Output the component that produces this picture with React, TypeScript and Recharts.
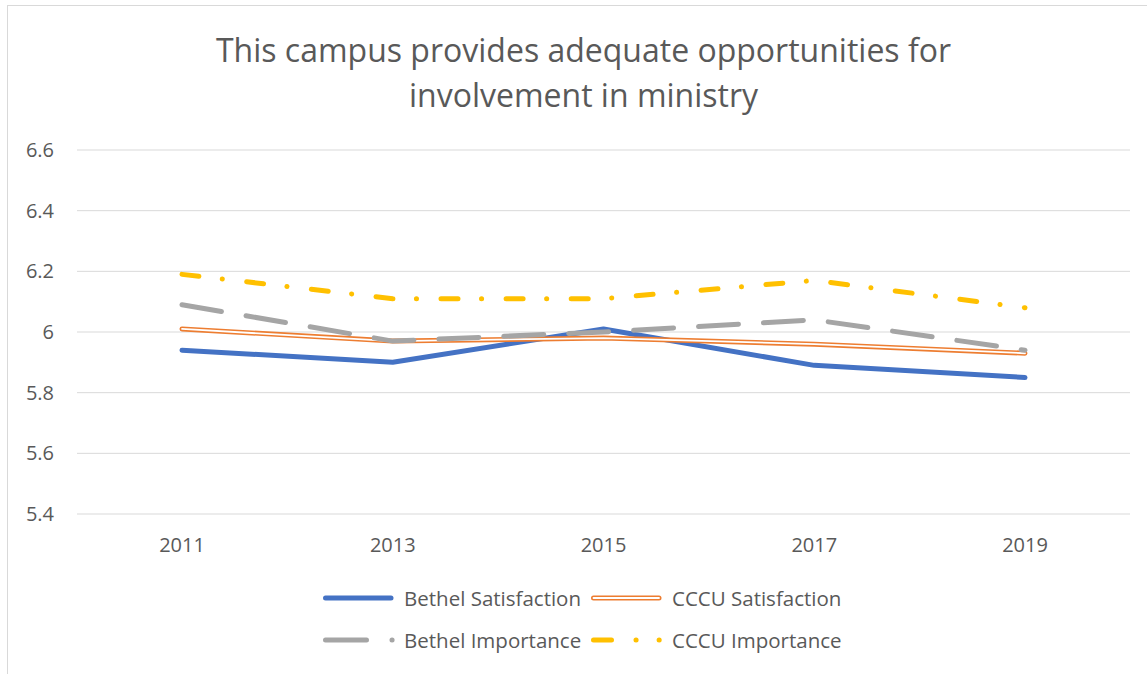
import React from 'react';
import { LineChart, Line, XAxis, YAxis, CartesianGrid } from 'recharts';

const years = ['2011', '2013', '2015', '2017', '2019'];
const bethelSatisfaction = [5.94, 5.9, 6.01, 5.89, 5.85];
const cccuSatisfaction = [6.01, 5.97, 5.98, 5.96, 5.93];
const bethelImportance = [6.09, 5.97, 6.0, 6.04, 5.94];
const cccuImportance = [6.19, 6.11, 6.11, 6.17, 6.08];
const yTicks = [5.4, 5.6, 5.8, 6.0, 6.2, 6.4, 6.6];
const titleLines = ['This campus provides adequate opportunities for', 'involvement in ministry'];
const seriesNames = ['Bethel Satisfaction', 'CCCU Satisfaction', 'Bethel Importance', 'CCCU Importance'];

const data = years.map((y, i) => ({
  year: y,
  bs: bethelSatisfaction[i],
  cs: cccuSatisfaction[i],
  bi: bethelImportance[i],
  ci: cccuImportance[i],
}));

const FONT = '"Open Sans", sans-serif';
const TXT = '#595959';
const BLUE = '#4472C4';
const ORANGE = '#ED7D31';
const GRAY = '#A5A5A5';
const YELLOW = '#FFC000';
const GRAY_DASH = '40 25';
const YELLOW_DASH = '17 23.5 0.1 24.5';

const fmt = (v: number) => String(Number(v.toFixed(1)));

function Sample({ kind }: { kind: number }) {
  const w = 76;
  return (
    <svg width={w} height={12} style={{ display: 'block' }}>
      {kind === 0 && <line x1={5.5} y1={6} x2={71} y2={6} stroke={BLUE} strokeWidth={5} strokeLinecap="round" />}
      {kind === 1 && (
        <g>
          <line x1={5.5} y1={6} x2={71} y2={6} stroke={ORANGE} strokeWidth={5} strokeLinecap="round" />
          <line x1={5.5} y1={6} x2={71} y2={6} stroke="#fff" strokeWidth={1.8} strokeLinecap="round" />
        </g>
      )}
      {kind === 2 && (
        <line x1={5.5} y1={6} x2={73} y2={6} stroke={GRAY} strokeWidth={5} strokeLinecap="round" strokeDasharray="41 25.5 0.1 30" />
      )}
      {kind === 3 && (
        <line x1={5.5} y1={6} x2={73} y2={6} stroke={YELLOW} strokeWidth={5} strokeLinecap="round" strokeDasharray="18 24.5 0.1 23 0.1 30" />
      )}
    </svg>
  );
}

function LegendBox() {
  const rows = [[0, 1], [2, 3]];
  return (
    <div style={{ position: 'absolute', left: 320, top: 585, fontFamily: FONT, color: TXT, fontSize: 20.5 }}>
      {rows.map((r, ri) => (
        <div key={ri} style={{ display: 'flex', alignItems: 'center', height: 26, marginBottom: ri === 0 ? 16 : 0 }}>
          {r.map((k) => (
            <div key={k} style={{ display: 'flex', alignItems: 'center', width: k % 2 === 0 ? 268 : undefined }}>
              <Sample kind={k} />
              <span style={{ marginLeft: 8, whiteSpace: 'nowrap' }}>{seriesNames[k]}</span>
            </div>
          ))}
        </div>
      ))}
    </div>
  );
}

export default function App() {
  return (
    <div style={{ position: 'absolute', left: 0, top: 0, width: 1147, height: 674, background: '#fff', overflow: 'hidden' }}>
      <div style={{ position: 'absolute', left: 7, top: 5, width: 1200, height: 700, borderLeft: '1px solid #d9d9d9', borderTop: '1px solid #d9d9d9' }} />
      <div style={{ position: 'absolute', left: 0, top: 27, width: 1167, textAlign: 'center', fontFamily: FONT, color: TXT, fontSize: 32, lineHeight: '45px' }}>
        {titleLines.map((t, i) => (
          <div key={i}>{t}</div>
        ))}
      </div>
      <div style={{ position: 'absolute', left: 0, top: 0 }}>
        <LineChart width={1147} height={674} data={data} margin={{ top: 150, right: 17, left: 17, bottom: 130 }}>
          <CartesianGrid vertical={false} stroke="#d9d9d9" strokeWidth={1} />
          <XAxis
            dataKey="year"
            padding={{ left: 105, right: 105 }}
            axisLine={false}
            tickLine={false}
            tickSize={0}
            tickMargin={24}
            height={30}
            tick={{ fill: TXT, fontSize: 20, fontFamily: FONT }}
            interval={0}
          />
          <YAxis
            domain={[5.4, 6.6]}
            ticks={yTicks}
            tickFormatter={fmt}
            axisLine={false}
            tickLine={false}
            tickSize={0}
            tickMargin={23}
            width={60}
            allowDataOverflow
            tick={{ fill: TXT, fontSize: 20, fontFamily: FONT }}
          />
          <Line dataKey="bs" stroke={BLUE} strokeWidth={5} dot={false} isAnimationActive={false} strokeLinecap="round" strokeLinejoin="round" />
          <Line dataKey="cs" stroke={ORANGE} strokeWidth={5} dot={false} isAnimationActive={false} strokeLinecap="round" strokeLinejoin="round" />
          <Line dataKey="cs" stroke="#fff" strokeWidth={1.8} dot={false} isAnimationActive={false} strokeLinecap="round" strokeLinejoin="round" />
          <Line dataKey="bi" stroke={GRAY} strokeWidth={5} dot={false} isAnimationActive={false} strokeLinecap="round" strokeDasharray={GRAY_DASH} />
          <Line dataKey="ci" stroke={YELLOW} strokeWidth={5} dot={false} isAnimationActive={false} strokeLinecap="round" strokeDasharray={YELLOW_DASH} />
        </LineChart>
      </div>
      <LegendBox />
    </div>
  );
}
